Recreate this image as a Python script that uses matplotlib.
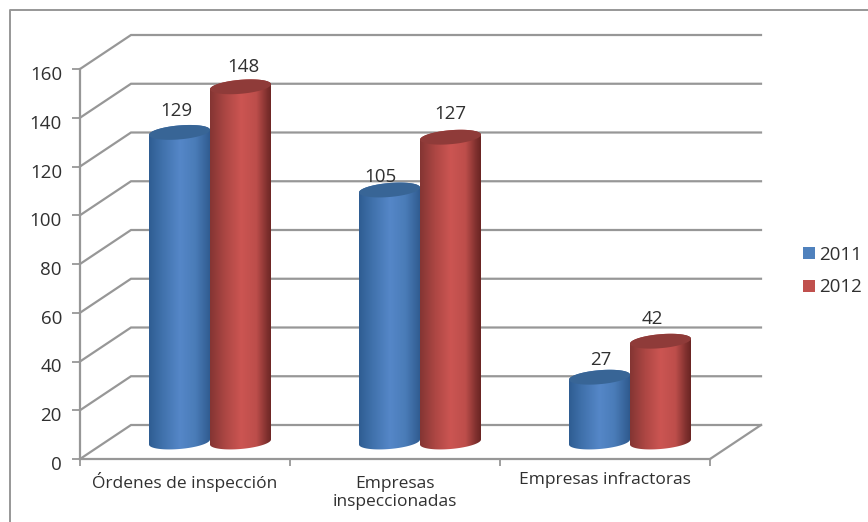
import numpy as np
import matplotlib
matplotlib.use('Agg')
import matplotlib.pyplot as plt
from matplotlib.colors import LinearSegmentedColormap
from matplotlib.lines import Line2D
from matplotlib.patches import Patch, PathPatch, Polygon
from matplotlib.path import Path
from matplotlib.transforms import ScaledTranslation

categories = ['Órdenes de inspección', 'Empresas\ninspeccionadas', 'Empresas infractoras']
series_names = ['2011', '2012']
values_2011 = [129, 105, 27]
values_2012 = [148, 127, 42]
y_ticks = [0, 20, 40, 60, 80, 100, 120, 140, 160]

W, H = 868, 522
GRID = '#979797'
TEXT = '#303030'
plt.rcParams['font.family'] = ['Open Sans', 'DejaVu Sans']

# px per data unit
X_PX = 210.0
Y_PX = 390 / 160.0

# depth of the walls
DX = 51 / X_PX
DY = 34 / Y_PX

# cylinder shape
BAR_W = 61 / X_PX
BAR_BASE = 17 / Y_PX
BAR_SCALE = 2.4 / Y_PX
CAP_B = 7.0 / Y_PX
CAP_TILT = 2.5 / Y_PX

fig = plt.figure(figsize=(W / 100, H / 100), dpi=100, facecolor='white')
ax = fig.add_axes([80 / W, (H - 459) / H, 630 / W, 390 / H])
ax.patch.set_alpha(0)


def cap_points(cx, cy, t0=0.0, t1=2 * np.pi):
    t = np.linspace(t0, t1, 60)
    a = BAR_W / 2
    return np.column_stack([cx + a * np.cos(t), cy + CAP_B * np.sin(t) + CAP_TILT * np.cos(t)])


def cylinder(x0, value, cmap, cap_color):
    cx = x0 + BAR_W / 2
    top = BAR_BASE + value * BAR_SCALE
    lower = cap_points(cx, BAR_BASE, np.pi, 2 * np.pi)
    upper = cap_points(cx, top, 0, np.pi)
    body = Path(np.vstack([lower, upper, lower[:1]]))
    patch = PathPatch(body, transform=ax.transData, facecolor='none', edgecolor='none')
    ax.add_patch(patch)
    shade = np.linspace(0, 1, 128).reshape(1, -1)
    im = ax.imshow(shade, cmap=cmap, extent=[x0, x0 + BAR_W, 0, top + CAP_B + 3], aspect='auto',
                   zorder=3, origin='lower')
    im.set_clip_path(patch)
    ax.add_patch(Polygon(cap_points(cx, top), closed=True, facecolor=cap_color, edgecolor='none', zorder=4))


blue_cmap = LinearSegmentedColormap.from_list('blue', [(0, '#2f5d92'), (0.2, '#3f70aa'), (0.5, '#5587c8'),
                                                       (0.75, '#4a7cb8'), (1, '#2f5a8e')])
red_cmap = LinearSegmentedColormap.from_list('red', [(0, '#843533'), (0.25, '#ad4744'), (0.5, '#cc5552'),
                                                     (0.75, '#bd4e4b'), (0.93, '#7d2f2d'), (1, '#6a2523')])

# walls and floor
for v in y_ticks:
    ax.plot([0, DX, 3 + DX], [v, v + DY, v + DY], color=GRID, lw=1.6, clip_on=False, zorder=1,
            solid_joinstyle='miter')
ax.plot([3, 3 + DX], [0, DY], color=GRID, lw=1.6, clip_on=False, zorder=1)

for i in range(len(categories)):
    cylinder(i + 69 / X_PX, values_2011[i], blue_cmap, '#386596')
    cylinder(i + 130 / X_PX, values_2012[i], red_cmap, '#8f3b39')

ax.set_xlim(0, 3)
ax.set_ylim(0, 160)

# value labels, nudged by hand in px (x, y)
label_nudge_2011 = [(-3, 21), (-9, 13), (2, 17)]
label_nudge_2012 = [(3, 20), (0, 23), (-8, 22)]
for i in range(len(categories)):
    for x0, vals, nudge in [(69, values_2011, label_nudge_2011), (130, values_2012, label_nudge_2012)]:
        ax.annotate(str(vals[i]), (i + (x0 + 30) / X_PX, BAR_BASE + vals[i] * BAR_SCALE),
                    xytext=nudge[i], textcoords='offset pixels', ha='center', va='center',
                    fontsize=13.5, color=TEXT, zorder=6, annotation_clip=False)

for side in ['top', 'right']:
    ax.spines[side].set_visible(False)
for side in ['left', 'bottom']:
    ax.spines[side].set_color(GRID)
    ax.spines[side].set_linewidth(1.6)

ax.set_yticks(y_ticks)
ax.tick_params(axis='y', length=6, width=1.3, color=GRID, labelcolor=TEXT, labelsize=13.5, pad=7)
shift = ScaledTranslation(0, -4 / 100, fig.dpi_scale_trans)
for label in ax.get_yticklabels():
    label.set_transform(label.get_transform() + shift)

ax.set_xticks([0, 1, 2, 3])
ax.set_xticklabels([])
ax.tick_params(axis='x', which='major', length=5, width=1.3, color=GRID)
ax.set_xticks([0.5, 1.5, 2.5], minor=True)
ax.set_xticklabels(categories, minor=True, fontsize=12.5, color=TEXT, linespacing=1.15)
ax.tick_params(axis='x', which='minor', length=0, pad=9)
# two line label sits lower than the others
two_line = ax.get_xticklabels(minor=True)[1]
two_line.set_transform(two_line.get_transform() + ScaledTranslation(0, -5 / 100, fig.dpi_scale_trans))

handles = [Patch(facecolor='#4f81bd', label=series_names[0]), Patch(facecolor='#c0504d', label=series_names[1])]
fig.legend(handles=handles, loc='center left', bbox_to_anchor=(803 / W, (H - 271) / H), frameon=False,
           fontsize=13.5, labelcolor=TEXT, handlelength=0.62, handleheight=0.62, handletextpad=0.22,
           labelspacing=0.8, borderpad=0, borderaxespad=0)

# outer chart frame, cut off by the picture on the right and bottom
fig.add_artist(Line2D([10 / W, 10 / W, 1], [0, (H - 10) / H, (H - 10) / H], color=GRID, lw=1.4))

fig.savefig('out.png', dpi=100)
